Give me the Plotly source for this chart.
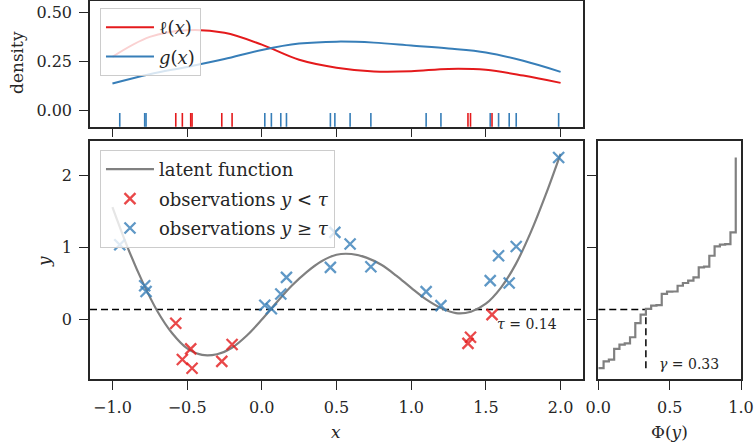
import plotly.graph_objects as go

# ---------------- data ----------------
latent_x = [-1.0, -0.9, -0.8, -0.7, -0.6, -0.5, -0.4, -0.3, -0.2, -0.1, 0.0,
            0.1, 0.2, 0.3, 0.4, 0.5, 0.6, 0.7, 0.8, 0.9, 1.0,
            1.1, 1.2, 1.3, 1.4, 1.5, 1.6, 1.7, 1.8, 1.9, 2.0]
latent_y = [1.56, 1.01, 0.53, 0.12, -0.19, -0.40, -0.49, -0.48, -0.39, -0.22, 0.00,
            0.24, 0.47, 0.66, 0.81, 0.90, 0.91, 0.86, 0.76, 0.61, 0.44,
            0.28, 0.16, 0.09, 0.11, 0.22, 0.44, 0.77, 1.21, 1.73, 2.30]

x_low = [-0.576, -0.532, -0.476, -0.467, -0.268, -0.199, 1.380, 1.397, 1.541]
y_low = [-0.05, -0.554, -0.406, -0.674, -0.58, -0.346, -0.33, -0.245, 0.069]

x_high = [-0.951, -0.784, -0.775, 0.020, 0.064, 0.127, 0.165, 0.459, 0.489,
          0.591, 0.730, 1.100, 1.199, 1.529, 1.585, 1.656, 1.703, 1.987]
y_high = [1.039, 0.47, 0.39, 0.20, 0.15, 0.356, 0.586, 0.725, 1.21,
          1.048, 0.734, 0.388, 0.194, 0.54, 0.886, 0.508, 1.015, 2.248]

dens_x = [-1.0, -0.75, -0.5, -0.25, 0.0, 0.25, 0.5, 0.75, 1.0, 1.25, 1.5, 1.75, 2.0]
l_dens = [0.273, 0.374, 0.408, 0.395, 0.335, 0.258, 0.218, 0.199, 0.200, 0.212, 0.207, 0.178, 0.141]
g_dens = [0.138, 0.185, 0.222, 0.262, 0.308, 0.340, 0.350, 0.345, 0.330, 0.315, 0.295, 0.253, 0.197]

tau = 0.14
x_ticks = [-1.0, -0.5, 0.0, 0.5, 1.0, 1.5, 2.0]
x_ticktext = ["\u22121.0", "\u22120.5", "0.0", "0.5", "1.0", "1.5", "2.0"]
dens_ticks = [0.0, 0.25, 0.5]
dens_ticktext = ["0.00", "0.25", "0.50"]
y_ticks = [0, 1, 2]
phi_ticks = [0.0, 0.5, 1.0]
phi_ticktext = ["0.0", "0.5", "1.0"]

# ---------------- derived ----------------
all_y = sorted(y_low + y_high)
n = len(all_y)
phi = [i / n for i in range(n)]
gamma = len(y_low) / n

RED = "#e41a1c"
BLUE = "#377eb8"
RED_A = "rgba(228,26,28,0.8)"
BLUE_A = "rgba(55,126,184,0.8)"
GRAY = "#808080"
INK = "#262626"
FONT = "DejaVu Serif"

fig = go.Figure()

# top panel: densities
fig.add_trace(go.Scatter(x=dens_x, y=l_dens, mode="lines", line=dict(color=RED, width=2, shape="spline"),
                         name="\u2113(<i>x</i>)", xaxis="x", yaxis="y", legend="legend", legendgroup="a"))
fig.add_trace(go.Scatter(x=dens_x, y=g_dens, mode="lines", line=dict(color=BLUE, width=2, shape="spline"),
                         name="<i>g</i>(<i>x</i>)", xaxis="x", yaxis="y", legend="legend", legendgroup="b"))
fig.add_trace(go.Scatter(x=x_low, y=[-0.05] * len(x_low), mode="markers",
                         marker=dict(symbol="line-ns", size=11, line=dict(color=RED, width=1.6)),
                         showlegend=False, xaxis="x", yaxis="y"))
fig.add_trace(go.Scatter(x=x_high, y=[-0.05] * len(x_high), mode="markers",
                         marker=dict(symbol="line-ns", size=11, line=dict(color=BLUE, width=1.6)),
                         showlegend=False, xaxis="x", yaxis="y"))

# main panel
fig.add_trace(go.Scatter(x=[-1.15, 2.15], y=[tau, tau], mode="lines",
                         line=dict(color="black", width=1.5, dash="7px,4px"),
                         showlegend=False, xaxis="x2", yaxis="y2"))
fig.add_trace(go.Scatter(x=latent_x, y=latent_y, mode="lines", line=dict(color=GRAY, width=2.2, shape="spline"),
                         name="latent function", xaxis="x2", yaxis="y2", legend="legend2", legendgroup="c"))
fig.add_trace(go.Scatter(x=x_low, y=y_low, mode="markers",
                         marker=dict(symbol="x-thin", size=11, line=dict(color=RED_A, width=2.3)),
                         name="observations <i>y</i> < <i>\u03c4</i>", xaxis="x2", yaxis="y2",
                         legend="legend2", legendgroup="d"))
fig.add_trace(go.Scatter(x=x_high, y=y_high, mode="markers",
                         marker=dict(symbol="x-thin", size=11, line=dict(color=BLUE_A, width=2.3)),
                         name="observations <i>y</i> \u2265 <i>\u03c4</i>", xaxis="x2", yaxis="y2",
                         legend="legend2", legendgroup="e"))

# right panel: empirical CDF
fig.add_trace(go.Scatter(x=[0, gamma], y=[tau, tau], mode="lines",
                         line=dict(color="black", width=1.5, dash="7px,4px"),
                         showlegend=False, xaxis="x3", yaxis="y3"))
fig.add_trace(go.Scatter(x=[gamma, gamma], y=[min(all_y), tau], mode="lines",
                         line=dict(color="black", width=1.5, dash="7px,4px"),
                         showlegend=False, xaxis="x3", yaxis="y3"))
fig.add_trace(go.Scatter(x=phi, y=all_y, mode="lines", line=dict(color=GRAY, width=2.2, shape="hv"),
                         showlegend=False, xaxis="x3", yaxis="y3"))

axis_common = dict(showgrid=False, zeroline=False, showline=True, mirror=True, automargin=False,
                   linecolor=INK, linewidth=1.6, ticks="outside", ticklen=9, tickwidth=1.4,
                   tickcolor=INK, tickfont=dict(family=FONT, size=16, color=INK),
                   ticklabelstandoff=4)

XD = [0.1194, 0.7732]
YD_MAIN = [0.154, 0.6842]
yr_main = [-0.824, 2.471]

legend_common = dict(xanchor="left", yanchor="top", bgcolor="rgba(255,255,255,0.8)",
                     bordercolor="#cccccc", borderwidth=1, itemwidth=48,
                     font=dict(family=FONT, size=18, color=INK), tracegroupgap=3,
                     traceorder="grouped")

fig.update_layout(
    width=754, height=448,
    margin=dict(l=0, r=0, t=0, b=0, autoexpand=False),
    paper_bgcolor="white", plot_bgcolor="white",
    font=dict(family=FONT, size=16, color=INK),
    xaxis=dict(domain=XD, anchor="y", range=[-1.15, 2.15], tickvals=x_ticks,
               showticklabels=False, **axis_common),
    yaxis=dict(domain=[0.7172, 0.9978], anchor="x", range=[-0.081, 0.556], tickvals=dens_ticks,
               ticktext=dens_ticktext, **axis_common),
    xaxis2=dict(domain=XD, anchor="y2", range=[-1.15, 2.15], tickvals=x_ticks,
                ticktext=x_ticktext, **axis_common),
    yaxis2=dict(domain=YD_MAIN, anchor="x2", range=yr_main, tickvals=y_ticks, **axis_common),
    xaxis3=dict(domain=[0.7935, 0.9828], anchor="y3", range=[0, 1], tickvals=phi_ticks,
                ticktext=phi_ticktext, **axis_common),
    yaxis3=dict(domain=YD_MAIN, anchor="x3", range=yr_main, tickvals=y_ticks,
                showticklabels=False, **axis_common),
    legend=dict(x=0.1326, y=1 - 8 / 448, **legend_common),
    legend2=dict(x=0.1326, y=1 - 150 / 448, **legend_common),
    showlegend=True,
)

ann = [
    dict(text="density", x=17, y=63, textangle=-90),
    dict(text="<i>y</i>", x=44, y=262, textangle=-90),
    dict(text="<i>x</i>", x=336, y=432, textangle=0),
    dict(text="\u03a6(<i>y</i>)", x=669, y=432, textangle=0),
]
for a in ann:
    fig.add_annotation(text=a["text"], x=a["x"] / 754, y=1 - a["y"] / 448, xref="paper", yref="paper",
                       showarrow=False, textangle=a["textangle"], xanchor="center", yanchor="middle",
                       font=dict(family=FONT, size=17, color=INK))

fig.add_annotation(text="<i>\u03c4</i> = {:.2f}".format(tau), x=1.56, y=-0.06, xref="x2", yref="y2",
                   showarrow=False, xanchor="left", yanchor="middle",
                   font=dict(family=FONT, size=14, color=INK))
fig.add_annotation(text="<i>\u03b3</i> = {:.2f}".format(gamma), x=0.41, y=-0.61, xref="x3", yref="y3",
                   showarrow=False, xanchor="left", yanchor="middle",
                   font=dict(family=FONT, size=14, color=INK))

fig.write_html("out.html", config={"displayModeBar": False},
               post_script="document.body.style.margin='0';document.body.style.padding='0';"
                           "document.body.style.overflow='hidden';")
